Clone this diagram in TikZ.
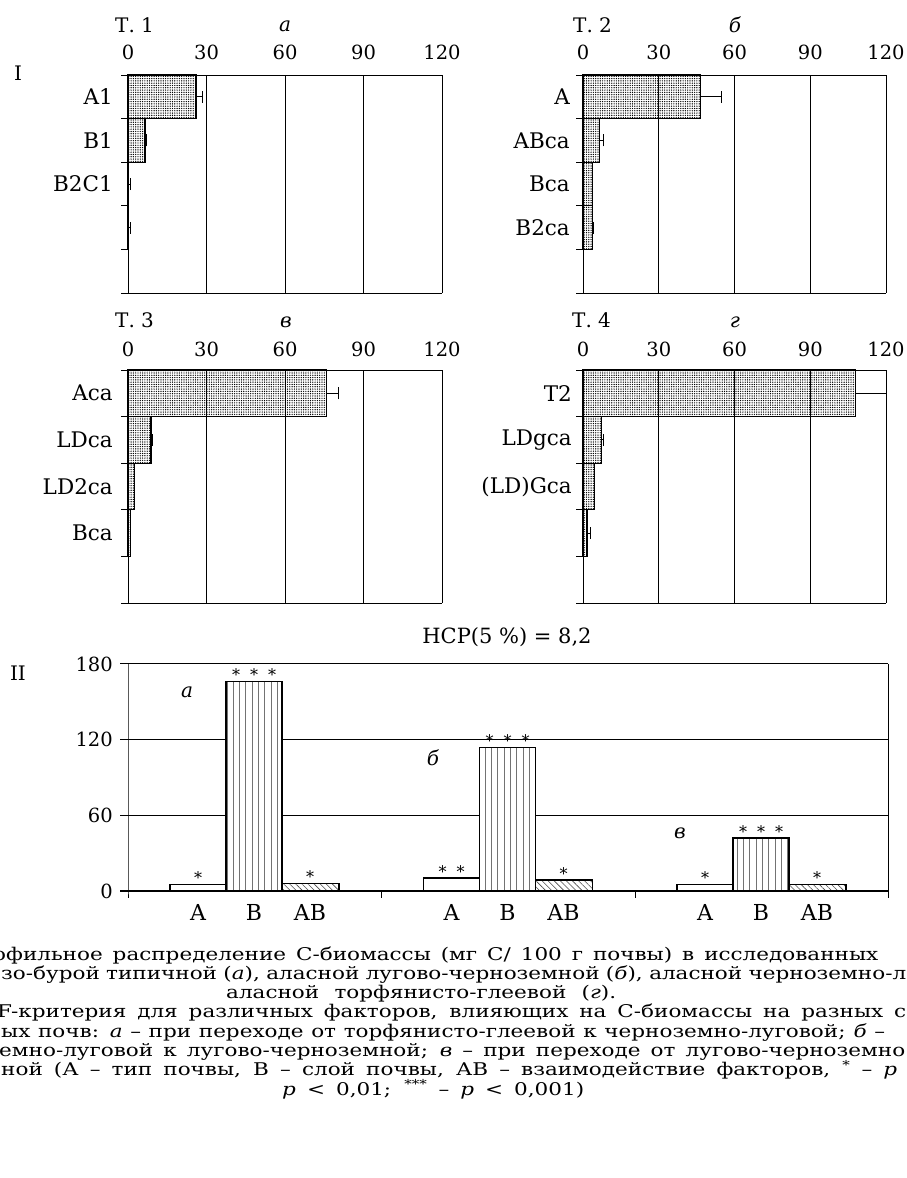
\documentclass[tikz,border=0pt]{standalone}
\usepackage{fontspec}
\setmainfont{DejaVu Serif}
\newfontfamily\capfont{DejaVu Serif}[FakeStretch=1.23]
\usetikzlibrary{patterns.meta}

\tikzset{
  gridline/.style={line width=1pt},
  zeroline/.style={line width=1.6pt},
  dotbar/.style={draw, line width=1.1pt, pattern={Dots[distance=2.3pt, radius=0.7pt]}, pattern color=black},
  errline/.style={line width=1pt},
  ticklabel/.style={inner sep=0pt, font=\fontsize{19.5}{21}\selectfont},
  rowlabel/.style={inner sep=0pt, anchor=east, font=\fontsize{21.5}{23}\selectfont},
  panellabel/.style={inner sep=0pt, font=\fontsize{20}{22}\selectfont},
  letterlabel/.style={inner sep=0pt, font=\fontsize{20}{22}\selectfont\itshape},
  starlabel/.style={inner sep=0pt, anchor=base, yshift=1pt, font=\fontsize{16}{18}\selectfont},
  catlabel/.style={inner sep=0pt, anchor=base, yshift=-29pt, font=\fontsize{22}{24}\selectfont},
  caplabel/.style={inner sep=0pt, anchor=base west, font=\capfont\fontsize{17.5}{19}\selectfont},
  typebar/.style={draw, line width=1.1pt, fill=white},
  layerbar/.style={draw, line width=1.1pt, preaction={fill=white},
    pattern={Lines[angle=90, distance=6.3pt, line width=0.6pt]}, pattern color=black!55},
  interbar/.style={draw, line width=1.1pt, preaction={fill=white},
    pattern={Lines[angle=-45, distance=4.3pt, line width=0.6pt]}, pattern color=black!70}
}

\begin{document}
\begin{tikzpicture}[x=1pt, y=-1pt]
    \useasboundingbox (0,0) rectangle (906,1178);
    \clip (0,0) rectangle (906,1178);

    % Part I: four soil profiles
    \node[panellabel] (partI) at (18,73) {I};

    % Profile a
    \node[panellabel, anchor=west] (Ta) at (115,25) {Т. 1};
    \node[letterlabel] (la) at (285,26) {а};
    \begin{scope}[xshift=128pt, yshift=-75pt, x=2.617pt, y=-43.6pt]
        \foreach \v in {0,30,...,120} {
            \draw[gridline] (\v,0) -- (\v,5);
            \node[ticklabel, above=15.5pt] (ta-\v) at (\v,0) {\v};
        }
        \foreach \r in {0,...,5} \draw[gridline] (0,\r) -- ++(-7pt,0);
        \draw[gridline] (0,0) -- (120,0);
        \draw[gridline] (0,5) -- (120,5);
        \foreach \r/\v/\e/\lab in {1/26/28.3/A1, 2/6.5/7.2/B1, 3/0.3/0.8/B2C1, 4/0.3/0.8/{}} {
            \draw[dotbar] (0,\r-1) rectangle (\v,\r);
            \draw[errline] (\v,\r-0.5) -- (\e,\r-0.5) ++(0,-6pt) -- ++(0,12pt);
            \node[rowlabel, xshift=-15pt] (ra-\r) at (0,\r-0.5) {\lab};
        }
    \end{scope}

    % Profile b
    \node[panellabel, anchor=west] (Tb) at (573,25) {Т. 2};
    \node[letterlabel] (lb) at (735,25) {б};
    \begin{scope}[xshift=583pt, yshift=-75pt, x=2.525pt, y=-43.6pt]
        \foreach \v in {0,30,...,120} {
            \draw[gridline] (\v,0) -- (\v,5);
            \node[ticklabel, above=15.5pt] (tb-\v) at (\v,0) {\v};
        }
        \foreach \r in {0,...,5} \draw[gridline] (0,\r) -- ++(-7pt,0);
        \draw[gridline] (0,0) -- (120,0);
        \draw[gridline] (0,5) -- (120,5);
        \foreach \r/\v/\e/\lab in {1/46.4/54.8/A, 2/6.7/8.3/ABca, 3/3.6/3.9/Bca, 4/3.6/4.0/B2ca} {
            \draw[dotbar] (0,\r-1) rectangle (\v,\r);
            \draw[errline] (\v,\r-0.5) -- (\e,\r-0.5) ++(0,-6pt) -- ++(0,12pt);
            \node[rowlabel, xshift=-13pt] (rb-\r) at (0,\r-0.5) {\lab};
        }
    \end{scope}

    % Profile v
    \node[panellabel, anchor=west] (Tv) at (115,320) {Т. 3};
    \node[letterlabel] (lv) at (286,322) {в};
    \begin{scope}[xshift=128pt, yshift=-370pt, x=2.617pt, y=-46.6pt]
        \foreach \v in {0,30,...,120} {
            \draw[gridline] (\v,0) -- (\v,5);
            \node[ticklabel, above=13.5pt] (tv-\v) at (\v,0) {\v};
        }
        \foreach \r in {0,...,5} \draw[gridline] (0,\r) -- ++(-7pt,0);
        \draw[gridline] (0,0) -- (120,0);
        \draw[gridline] (0,5) -- (120,5);
        \foreach \r/\v/\e/\lab in {1/76/80.6/Aca, 2/8.8/9.2/LDca, 3/2.6/2.6/LD2ca, 4/1.1/1.1/Bca} {
            \draw[dotbar] (0,\r-1) rectangle (\v,\r);
            \draw[errline] (\v,\r-0.5) -- (\e,\r-0.5) ++(0,-6pt) -- ++(0,12pt);
            \node[rowlabel, xshift=-15pt] (rv-\r) at (0,\r-0.5) {\lab};
        }
    \end{scope}

    % Profile g
    \node[panellabel, anchor=west] (Tg) at (572,320) {Т. 4};
    \node[letterlabel] (lg) at (735,322) {г};
    \begin{scope}[xshift=583pt, yshift=-370pt, x=2.525pt, y=-46.6pt]
        \foreach \v in {0,30,...,120} {
            \draw[gridline] (\v,0) -- (\v,5);
            \node[ticklabel, above=13.5pt] (tg-\v) at (\v,0) {\v};
        }
        \foreach \r in {0,...,5} \draw[gridline] (0,\r) -- ++(-7pt,0);
        \draw[gridline] (0,0) -- (120,0);
        \draw[gridline] (0,5) -- (120,5);
        \foreach \r/\v/\e/\lab in {1/108/120/T2, 2/7.5/8.0/LDgca, 3/4.4/4.6/(LD)Gca, 4/1.6/2.8/{}} {
            \draw[dotbar] (0,\r-1) rectangle (\v,\r);
            \draw[errline] (\v,\r-0.5) -- (\e,\r-0.5) ++(0,-6pt) -- ++(0,12pt);
            \node[rowlabel, xshift=-11pt] (rg-\r) at (0,\r-0.5) {\lab};
        }
    \end{scope}

    % Part II: F-criterion
    \node[panellabel] (partII) at (18,673) {II};
    \node[panellabel, font=\fontsize{21}{23}\selectfont] (hcp) at (507,637) {НСР(5 \%) = 8,2};
    \begin{scope}[xshift=128pt, yshift=-891pt, x=1pt, y=1.2617pt]
        \foreach \v in {60,120,180} {
            \draw[gridline] (-8,\v) -- (760,\v);
            \node[ticklabel, anchor=east] (tII-\v) at (-15,\v) {\v};
        }
        \node[ticklabel, anchor=east] (tII-0) at (-15,0) {0};
        \draw[gridline] (0,180) -- (0,0) -- ++(0,-7pt);
        \draw[gridline] (760,180) -- (760,0) -- ++(0,-7pt);
        \foreach \g in {253.5,507} \draw[gridline] (\g,0) -- ++(0,-7pt);
        \foreach \o/\a/\b/\c/\sa/\lab/\lx/\ly [count=\i] in
            {0/5.5/166/6.3/{*}/а/59/157.7,
             253.5/10.3/114/8.7/{*\hspace{10pt}*}/б/305/105.4,
             507/5.5/42/5.5/{*}/в/552/46} {
            \draw[typebar] (\o+42,0) rectangle (\o+98,\a);
            \draw[layerbar] (\o+98,0) rectangle (\o+154,\b);
            \draw[interbar] (\o+154,0) rectangle (\o+211,\c);
            \node[starlabel] (sA-\i) at (\o+70,\a) {\sa};
            \node[starlabel] (sB-\i) at (\o+126,\b) {*\hspace{10pt}*\hspace{10pt}*};
            \node[starlabel] (sAB-\i) at (\o+182,\c) {*};
            \node[letterlabel] (lII-\i) at (\lx,\ly) {\lab};
            \node[catlabel] (cA-\i) at (\o+70,0) {A};
            \node[catlabel] (cB-\i) at (\o+126,0) {B};
            \node[catlabel] (cAB-\i) at (\o+182,0) {AB};
        }
        \draw[zeroline] (-8,0) -- (760,0);
    \end{scope}

    % Caption
    \node[caplabel] (cap1) at (-7,960) {\makebox[885pt][s]{офильное распределение С-биомассы (мг С/ 100 г почвы) в исследованных}};
    \node[caplabel] (cap2) at (1,979.3) {\makebox[905pt][s]{зо-бурой типичной (\textit{а}), аласной лугово-черноземной (\textit{б}), аласной черноземно-л}};
    \node[caplabel] (cap3) at (226,998.6) {\makebox[390pt][s]{аласной торфянисто-глеевой (\textit{г}).}};
    \node[caplabel] (cap4) at (-3,1017.9) {\makebox[909pt][s]{F-критерия для различных факторов, влияющих на С-биомассы на разных с}};
    \node[caplabel] (cap5) at (1,1037.2) {\makebox[884pt][s]{ых почв: \textit{а} – при переходе от торфянисто-глеевой к черноземно-луговой; \textit{б} –}};
    \node[caplabel] (cap6) at (-1,1056.5) {\makebox[906pt][s]{емно-луговой к лугово-черноземной; \textit{в} – при переходе от лугово-черноземно}};
    \node[caplabel] (cap7) at (1,1075.8) {\makebox[896pt][s]{ной (А – тип почвы, В – слой почвы, АВ – взаимодействие факторов, \textsuperscript{*} – \textit{p}}};
    \node[caplabel] (cap8) at (282,1095.1) {\makebox[302pt][s]{\textit{p} < 0,01; \textsuperscript{***} – \textit{p} < 0,001)}};
\end{tikzpicture}
\end{document}
